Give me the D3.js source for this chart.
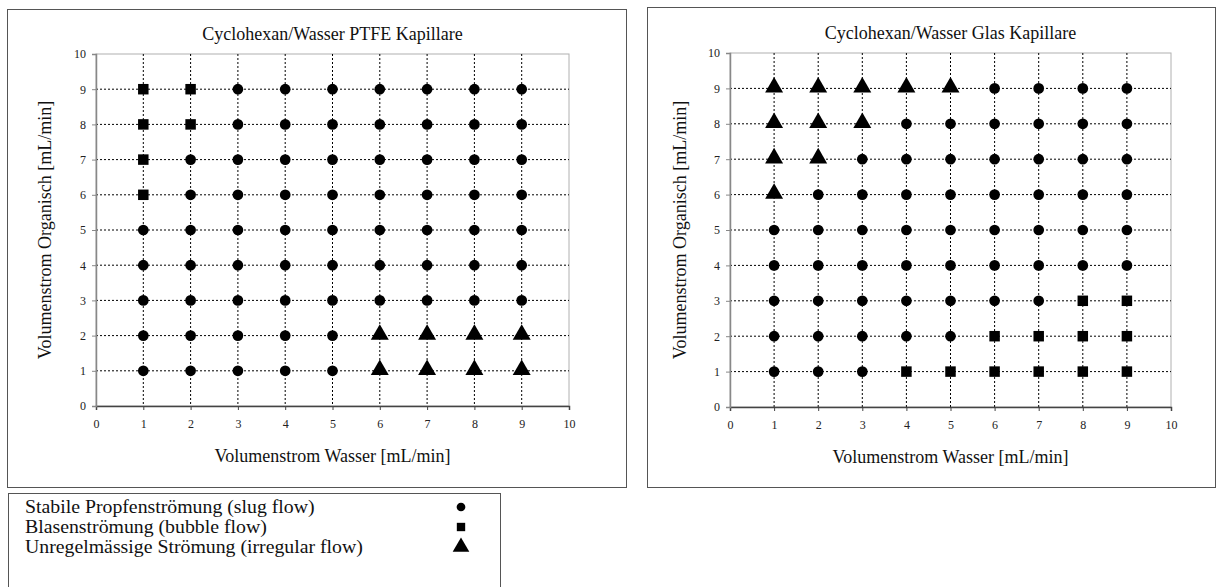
<!DOCTYPE html>
<html>
<head>
<meta charset="utf-8">
<script src="https://cdn.jsdelivr.net/npm/d3@7"></script>
<style>
  body { margin: 0; background: #fff; }
  svg { display: block; }
  svg text { font-family: "Liberation Serif", "Times New Roman", serif; }
</style>
</head>
<body>
<div id="chart"></div>
<script>
/***** data *****/
// flow rates (mL/min) used on both axes
var waterFlow = [1, 2, 3, 4, 5, 6, 7, 8, 9];
var organicFlow = [9, 8, 7, 6, 5, 4, 3, 2, 1]; // rows of the regime tables, top to bottom
var axisTicks = [0, 1, 2, 3, 4, 5, 6, 7, 8, 9, 10];

// flow regime per (water, organic) point: P = slug, B = bubble, U = irregular
var ptfeRegime = [
  "BBPPPPPPP",
  "BBPPPPPPP",
  "BPPPPPPPP",
  "BPPPPPPPP",
  "PPPPPPPPP",
  "PPPPPPPPP",
  "PPPPPPPPP",
  "PPPPPUUUU",
  "PPPPPUUUU"
];
var glasRegime = [
  "UUUUUPPPP",
  "UUUPPPPPP",
  "UUPPPPPPP",
  "UPPPPPPPP",
  "PPPPPPPPP",
  "PPPPPPPPP",
  "PPPPPPPBB",
  "PPPPPBBBB",
  "PPPBBBBBB"
];

var chartTitles = ["Cyclohexan/Wasser PTFE Kapillare", "Cyclohexan/Wasser Glas Kapillare"];
var xTitle = "Volumenstrom Wasser [mL/min]";
var yTitle = "Volumenstrom Organisch [mL/min]";

var legendLabels = [
  "Stabile Propfenströmung (slug flow)",
  "Blasenströmung (bubble flow)",
  "Unregelmässige Strömung (irregular flow)"
];
var legendCodes = ["P", "B", "U"];

/***** svg *****/
var svg = d3.select("#chart")
  .append("svg")
  .attr("width", 1222)
  .attr("height", 587)
;

// symbol per regime
var symbolMap = {P: d3.symbolCircle, B: d3.symbolSquare, U: d3.symbolTriangle};
var symbolPath = function(code, sizes){
  return d3.symbol().type(symbolMap[code]).size(sizes[code])();
};
var plotSizes = {P: 90, B: 110, U: 140};
var legendSizes = {P: 60, B: 70, U: 120};

//turn a regime table into points
var toPoints = function(table){
  var pts = [];
  table.forEach(function(row, i){
    row.split("").forEach(function(code, j){
      pts.push({x: waterFlow[j], y: organicFlow[i], code: code});
    });
  });
  return pts;
};

/***** one panel *****/
var drawPanel = function(cfg){
  var g = svg.append("g");

  // outer frame
  g.append("rect")
    .attr("x", cfg.box[0] + 0.5)
    .attr("y", cfg.box[1] + 0.5)
    .attr("width", cfg.box[2])
    .attr("height", cfg.box[3])
    .attr("fill", "#fff")
    .attr("stroke", "#555")
  ;

  var x = d3.scaleLinear().domain([0, 10]).range([cfg.left, cfg.right]);
  var y = d3.scaleLinear().domain([0, 10]).range([cfg.bottom, cfg.top]);

  // plot border (top/right)
  g.append("rect")
    .attr("x", cfg.left)
    .attr("y", cfg.top)
    .attr("width", cfg.right - cfg.left)
    .attr("height", cfg.bottom - cfg.top)
    .attr("fill", "none")
    .attr("stroke", "#b0b0b0")
  ;

  // gridlines
  g.append("g").selectAll("line")
    .data(waterFlow)
    .enter().append("line")
    .attr("x1", function(d){ return x(d); })
    .attr("x2", function(d){ return x(d); })
    .attr("y1", cfg.top)
    .attr("y2", cfg.bottom)
    .attr("stroke", "#000")
    .attr("stroke-dasharray", "2,2")
  ;
  g.append("g").selectAll("line")
    .data(organicFlow)
    .enter().append("line")
    .attr("x1", cfg.left)
    .attr("x2", cfg.right)
    .attr("y1", function(d){ return y(d); })
    .attr("y2", function(d){ return y(d); })
    .attr("stroke", "#000")
    .attr("stroke-dasharray", "2,2")
  ;

  // axes
  var xAxis = d3.axisBottom(x).tickValues(axisTicks).tickSize(4).tickPadding(9);
  var yAxis = d3.axisLeft(y).tickValues(axisTicks).tickSize(4).tickPadding(6);

  var gx = g.append("g")
    .attr("transform", "translate(0," + cfg.bottom + ")")
    .call(xAxis)
    .attr("font-family", null)
  ;
  var gy = g.append("g")
    .attr("transform", "translate(" + cfg.left + ",0)")
    .call(yAxis)
    .attr("font-family", null)
  ;
  gx.select(".domain").attr("stroke", "#444").attr("stroke-width", 1.5);
  gy.select(".domain").attr("stroke", "#888").attr("stroke-width", 1.5);
  gx.selectAll(".tick line").attr("stroke", "#444");
  gy.selectAll(".tick line").attr("stroke", "#888");
  g.selectAll(".tick text")
    .attr("font-size", 12)
    .attr("fill", "#222")
  ;

  // points
  g.append("g").selectAll("path")
    .data(toPoints(cfg.regime))
    .enter().append("path")
    .attr("transform", function(d){
      var dy = d.code === "U" ? -1 : 0;
      return "translate(" + x(d.x) + "," + (y(d.y) + dy) + ")";
    })
    .attr("d", function(d){ return symbolPath(d.code, plotSizes); })
    .attr("fill", "#000")
  ;

  // titles
  var cx = (cfg.left + cfg.right) / 2;
  g.append("text")
    .attr("x", cx)
    .attr("y", cfg.top - 14)
    .attr("text-anchor", "middle")
    .attr("font-size", 18)
    .attr("fill", "#111")
    .text(cfg.title)
  ;
  g.append("text")
    .attr("x", cx)
    .attr("y", cfg.bottom + 56)
    .attr("text-anchor", "middle")
    .attr("font-size", 18)
    .attr("fill", "#111")
    .text(xTitle)
  ;
  g.append("text")
    .attr("transform", "translate(" + cfg.yLabelX + "," + ((cfg.top + cfg.bottom) / 2) + ") rotate(-90)")
    .attr("text-anchor", "middle")
    .attr("font-size", 18)
    .attr("fill", "#111")
    .text(yTitle)
  ;
};

drawPanel({box: [7, 9, 619, 478], left: 96, right: 569, top: 54, bottom: 406,
  yLabelX: 51, title: chartTitles[0], regime: ptfeRegime});
drawPanel({box: [647, 7, 568, 480], left: 730, right: 1171, top: 53, bottom: 407,
  yLabelX: 686, title: chartTitles[1], regime: glasRegime});

/***** legend *****/
var legend = svg.append("g");
legend.append("rect")
  .attr("x", 8.5)
  .attr("y", 493.5)
  .attr("width", 492)
  .attr("height", 110)
  .attr("fill", "#fff")
  .attr("stroke", "#555")
;
var rowY = d3.scalePoint().domain(legendCodes).range([507, 547]);
var rows = legend.selectAll(".row")
  .data(legendCodes)
  .enter().append("g")
  .attr("class", "row")
;
// text a bit wider than the font gives, like the reference
rows.append("text")
  .attr("transform", function(d){ return "translate(25," + (rowY(d) + 6) + ") scale(1.1,1)"; })
  .attr("font-size", 18)
  .attr("fill", "#111")
  .text(function(d, i){ return legendLabels[i]; })
;
rows.append("path")
  .attr("transform", function(d){ return "translate(461," + rowY(d) + ")"; })
  .attr("d", function(d){ return symbolPath(d, legendSizes); })
  .attr("fill", "#000")
;
</script>
</body>
</html>
